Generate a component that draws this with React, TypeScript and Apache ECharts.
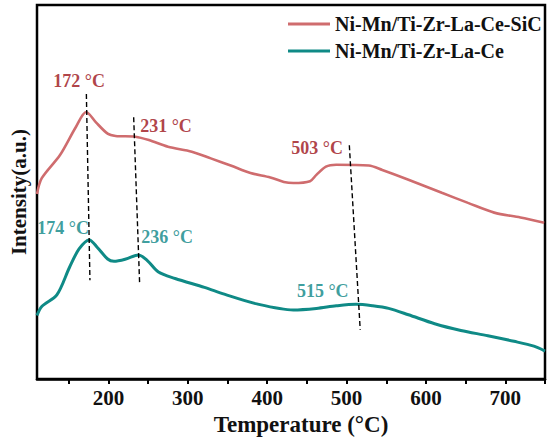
import React, { useEffect, useRef } from "react";
import * as echarts from "echarts";

// Temperature (°C) and intensity (a.u.)
const redT = [110, 116, 139, 159, 172, 184, 199, 209, 234, 251, 275, 305, 329, 354, 379, 404, 421, 433, 454, 462, 474, 487, 528, 545, 578, 620, 653, 686, 719, 749];
const redI = [49.5, 53.7, 59.9, 67.4, 71.4, 68.7, 65.6, 65.0, 64.8, 63.9, 62.1, 60.8, 59.0, 57.1, 55.1, 53.9, 52.7, 52.4, 52.9, 54.6, 56.8, 57.3, 57.1, 55.9, 53.3, 49.8, 47.1, 44.5, 43.2, 41.8];

const tealT = [110, 116, 135, 151, 163, 176, 186, 199, 207, 222, 238, 249, 263, 284, 321, 346, 387, 433, 462, 487, 512, 533, 553, 578, 611, 644, 678, 711, 736, 750];
const tealI = [17.0, 19.4, 22.5, 29.9, 34.8, 37.2, 35.2, 32.1, 31.5, 32.1, 33.2, 31.7, 28.6, 26.9, 24.5, 22.7, 20.1, 18.5, 18.9, 19.6, 20.0, 19.6, 18.9, 17.2, 14.8, 13.0, 11.6, 10.1, 8.8, 7.5];

const seriesNames = ["Ni-Mn/Ti-Zr-La-Ce-SiC", "Ni-Mn/Ti-Zr-La-Ce"];

// Dashed guide lines (start, end) in data units
const dashT = [[172.2, 176.7], [231.8, 239.3], [503.5, 517.2]];
const dashI = [[76.2, 26.4], [70.0, 25.5], [62.5, 13.2]];

// Peak annotations (group 0 = SiC sample, group 1 = plain sample)
const peakText = [["172 °C", "231 °C", "503 °C"], ["174 °C", "236 °C", "515 °C"]];
const peakT = [[163, 272.5, 463], [143, 274, 470]];
const peakI = [[79.6, 67.7, 61.7], [40.5, 37.9, 23.6]];

const xTicks = [150, 200, 250, 300, 350, 400, 450, 500, 550, 600, 650, 700, 750];
const xLabels = [200, 300, 400, 500, 600, 700];

const lineColors = ["#cf6c6e", "#0f8a86"];
const labelColors = ["#9c1118", "#0b8585"];
const FONT = "'Liberation Serif', 'Times New Roman', serif";

export default function App() {
  const ref = useRef<HTMLDivElement>(null);
  useEffect(() => {
    if (!ref.current) return;
    const chart = echarts.init(ref.current, undefined, { renderer: "svg" });
    const series: any[] = [
      {
        name: seriesNames[0],
        type: "line",
        data: redT.map((t, i) => [t, redI[i]]),
        smooth: 0.3,
        showSymbol: false,
        lineStyle: { color: lineColors[0], width: 2.6 },
        itemStyle: { color: lineColors[0] },
        z: 3,
      },
      {
        name: seriesNames[1],
        type: "line",
        data: tealT.map((t, i) => [t, tealI[i]]),
        smooth: 0.3,
        showSymbol: false,
        lineStyle: { color: lineColors[1], width: 3 },
        itemStyle: { color: lineColors[1] },
        z: 3,
      },
    ];
    dashT.forEach((d, k) => {
      series.push({
        type: "line",
        data: d.map((t, i) => [t, dashI[k][i]]),
        showSymbol: false,
        silent: true,
        lineStyle: { color: "#000", width: 1.4, type: [5, 3] },
        z: 4,
      });
    });
    peakText.forEach((texts, g) => {
      series.push({
        type: "scatter",
        symbol: "circle",
        symbolSize: 1,
        itemStyle: { color: "rgba(0,0,0,0)" },
        silent: true,
        data: texts.map((s, i) => ({ value: [peakT[g][i], peakI[g][i]], name: s })),
        label: {
          show: true,
          position: "inside",
          formatter: (p: any) => p.name,
          color: labelColors[g],
          fontFamily: FONT,
          fontWeight: "bold",
          fontSize: 18,
          textBorderWidth: 0,
          textBorderColor: "transparent",
        },
        z: 5,
      });
    });

    chart.setOption({
      animation: false,
      backgroundColor: "#fff",
      grid: {
        left: 31,
        right: 5,
        top: 5,
        bottom: 58,
        show: true,
        borderColor: "#000",
        borderWidth: 2.5,
        backgroundColor: "transparent",
      },
      legend: {
        data: seriesNames,
        orient: "vertical",
        left: 283,
        top: 9,
        itemWidth: 42,
        itemHeight: 3,
        itemGap: 7,
        icon: "rect",
        textStyle: { fontFamily: FONT, fontWeight: "bold", fontSize: 20, color: "#111" },
      },
      xAxis: {
        type: "value",
        min: 110,
        max: 750,
        name: "Temperature (°C)",
        nameLocation: "middle",
        nameGap: 21,
        nameTextStyle: { fontFamily: FONT, fontWeight: "bold", fontSize: 23, color: "#111", padding: [0, 0, 0, 20] },
        axisLine: { show: true, lineStyle: { color: "#000", width: 2.5 } },
        axisTick: { show: true, customValues: xTicks, length: 5, lineStyle: { color: "#000", width: 2 } },
        axisLabel: {
          customValues: xLabels,
          margin: 8,
          fontFamily: FONT,
          fontWeight: "bold",
          fontSize: 21,
          color: "#111",
        },
        splitLine: { show: false },
      },
      yAxis: {
        type: "value",
        min: 0,
        max: 100,
        name: "Intensity(a.u.)",
        nameLocation: "middle",
        nameRotate: 90,
        nameGap: 8,
        nameTextStyle: { fontFamily: FONT, fontWeight: "bold", fontSize: 21, color: "#111" },
        axisLine: { show: false },
        axisTick: { show: false },
        axisLabel: { show: false },
        splitLine: { show: false },
      },
      series,
    });
    return () => chart.dispose();
  }, []);
  return (
    <div
      ref={ref}
      style={{ position: "fixed", left: 0, top: 0, width: 550, height: 441 }}
    />
  );
}
